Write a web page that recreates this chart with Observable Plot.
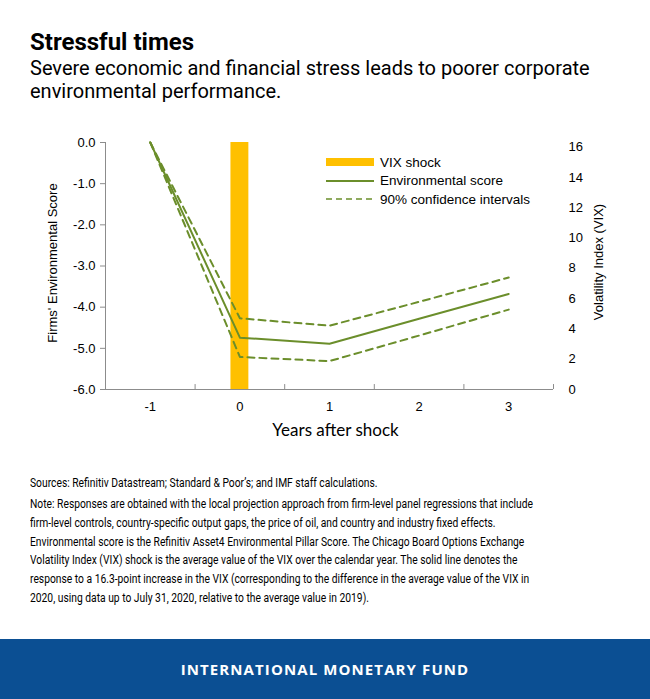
<!DOCTYPE html>
<html>
<head>
<meta charset="utf-8">
<script src="https://cdn.jsdelivr.net/npm/d3@7"></script>
<script src="https://cdn.jsdelivr.net/npm/@observablehq/plot@0.6"></script>
<style>
  html, body { margin: 0; padding: 0; background: #fff; }
  #page { position: relative; width: 650px; height: 699px; overflow: hidden; background: #fff; }
  #title { position: absolute; left: 30px; top: 30px; font: bold 24px/24px Roboto, sans-serif; color: #000; }
  #subtitle { position: absolute; left: 30px; top: 57px; font: 20px/22.5px Roboto, sans-serif; color: #000; width: 610px; }
  #chart { position: absolute; left: 0; top: 120px; }
  #legend { position: absolute; left: 326px; top: 153px; font: 13.5px "Liberation Sans", Arial, sans-serif; color: #000; }
  #legend .row { display: flex; align-items: center; height: 18.5px; }
  #legend svg { margin-right: 6px; }
  #notes { position: absolute; left: 30px; top: 474px; font: 12.5px Roboto, sans-serif; color: #000; transform-origin: 0 0; white-space: nowrap; }
  #notes div { height: 18.7px; line-height: 18.7px; }
  #notes div.first { margin-bottom: 2.5px; }
  #footer { position: absolute; left: 0; top: 639px; width: 650px; height: 60px; background: #0b4f93; color: #fff;
            display: flex; align-items: center; justify-content: center; font: bold 15px "Open Sans", sans-serif; letter-spacing: 1.1px; }
</style>
</head>
<body>
<div id="page">
  <div id="title">Stressful times</div>
  <div id="subtitle">Severe economic and financial stress leads to poorer corporate environmental performance.</div>
  <div id="chart"></div>
  <div id="legend"></div>
  <div id="notes"></div>
  <div id="footer">INTERNATIONAL MONETARY FUND</div>
</div>
<script>
// ---- data ----
const years = [-1, 0, 1, 2, 3];
const envScore = [0, -4.74, -4.89, -4.28, -3.68];
const upperCI = [0, -4.27, -4.45, -3.87, -3.28];
const lowerCI = [0, -5.21, -5.31, -4.69, -4.06];
const vixYears = [0];
const vixShock = [16.3];
const scoreTicks = [0, -1, -2, -3, -4, -5, -6];
const vixTicks = [0, 2, 4, 6, 8, 10, 12, 14, 16];
const bandBoundaries = [-0.5, 0.5, 1.5, 2.5, 3.5];

const legendItems = ["VIX shock", "Environmental score", "90% confidence intervals"];
const noteLines = [
  "Sources: Refinitiv Datastream; Standard & Poor\u2019s; and IMF staff calculations.",
  "Note: Responses are obtained with the local projection approach from firm-level panel regressions that include",
  "firm-level controls, country-specific output gaps, the price of oil, and country and industry fixed effects.",
  "Environmental score is the Refinitiv Asset4 Environmental Pillar Score. The Chicago Board Options Exchange",
  "Volatility Index (VIX) shock is the average value of the VIX over the calendar year. The solid line denotes the",
  "response to a 16.3-point increase in the VIX (corresponding to the difference in the average value of the VIX in",
  "2020, using data up to July 31, 2020, relative to the average value in 2019)."
];

// ---- styles ----
const green = "#6b8e2b";
const gold = "#ffc000";
const axisGray = "#8c8c8c";
const chartFont = "'Liberation Sans', Arial, sans-serif";

// right axis (VIX 0..16.3) maps onto left axis (-6..0)
const vixMax = 16.3;
const toScore = v => -6 + v * 6 / vixMax;
const toVix = s => (s + 6) * vixMax / 6;

const rows = years.map((yr, i) => ({year: yr, score: envScore[i], upper: upperCI[i], lower: lowerCI[i]}));
const vixRows = vixYears.map((yr, i) => ({year: yr, value: vixShock[i]}));

const halfBar = 0.1;
const tickLenUnits = 0.12;

const plot = Plot.plot({
  width: 650,
  height: 330,
  marginTop: 22,
  marginBottom: 61,
  marginLeft: 105,
  marginRight: 97,
  style: {fontFamily: chartFont, fontSize: "13px", color: "#000", background: "transparent", overflow: "visible"},
  x: {domain: [-1.5, 3.5], axis: null},
  y: {domain: [-6, 0], axis: null},
  marks: [
    Plot.rectY(vixRows, {x1: d => d.year - halfBar, x2: d => d.year + halfBar, y1: toScore(0), y2: d => toScore(d.value), fill: gold}),
    Plot.ruleY([-6], {stroke: axisGray, strokeWidth: 1}),
    Plot.ruleX([-1.5], {y1: -6, y2: 0, stroke: axisGray, strokeWidth: 1}),
    Plot.ruleX(bandBoundaries, {x: d => d, y1: -6, y2: -6 + tickLenUnits, stroke: axisGray, strokeWidth: 1}),
    Plot.axisY(scoreTicks, {anchor: "left", tickSize: 5, tickPadding: 5, stroke: axisGray, tickFormat: d => d.toFixed(1), fontSize: 13, label: null}),
    Plot.axisY(vixTicks.map(toScore), {anchor: "right", tickSize: 0, tickPadding: 15, tickFormat: d => String(Math.round(toVix(d))), fontSize: 13, label: null}),
    Plot.axisX(years, {anchor: "bottom", tickSize: 0, tickPadding: 12, tickFormat: d => String(d), fontSize: 13, label: null}),
    Plot.line(rows, {x: "year", y: "upper", stroke: green, strokeWidth: 2, strokeDasharray: "7,5"}),
    Plot.line(rows, {x: "year", y: "lower", stroke: green, strokeWidth: 2, strokeDasharray: "7,5"}),
    Plot.line(rows, {x: "year", y: "score", stroke: green, strokeWidth: 2}),
    Plot.text(["Years after shock"], {frameAnchor: "bottom", dx: 6, dy: 46, fontSize: 17, fontFamily: "Lato, sans-serif"}),
    Plot.text(["Firms' Environmental Score"], {frameAnchor: "left", textAnchor: "middle", rotate: -90, dx: -53, dy: -3, fontSize: 13}),
    Plot.text(["Volatility Index (VIX)"], {frameAnchor: "right", textAnchor: "middle", rotate: -90, dx: 45, dy: -4, fontSize: 13})
  ]
});
document.getElementById("chart").appendChild(plot);

// legend
const legend = document.getElementById("legend");
legendItems.forEach((label, i) => {
  const row = document.createElement("div");
  row.className = "row";
  let sw;
  if (i === 0) sw = `<svg width="48" height="10"><rect x="0" y="1" width="48" height="8" fill="${gold}"/></svg>`;
  else if (i === 1) sw = `<svg width="48" height="10"><line x1="0" x2="48" y1="5" y2="5" stroke="${green}" stroke-width="2"/></svg>`;
  else sw = `<svg width="48" height="10"><line x1="0" x2="48" y1="5" y2="5" stroke="${green}" stroke-width="1.5" stroke-dasharray="6,4"/></svg>`;
  row.innerHTML = sw + `<span>${label}</span>`;
  legend.appendChild(row);
});

// notes
const notes = document.getElementById("notes");
noteLines.forEach((t, i) => {
  const d = document.createElement("div");
  if (i === 0) d.className = "first";
  d.textContent = t;
  notes.appendChild(d);
});
const span = document.createElement("span");
span.textContent = noteLines[1];
span.style.font = "12.5px Roboto, sans-serif";
span.style.whiteSpace = "nowrap";
span.style.position = "absolute";
span.style.visibility = "hidden";
document.body.appendChild(span);
const natural = span.getBoundingClientRect().width;
span.remove();
notes.style.transform = `scaleX(${503 / natural})`;
</script>
</body>
</html>
